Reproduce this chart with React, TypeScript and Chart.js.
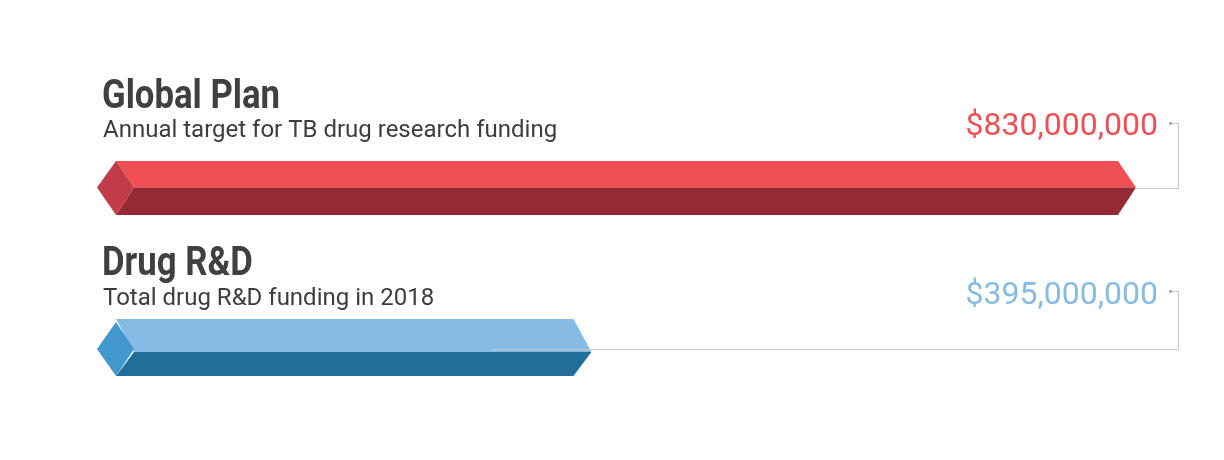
import React, { useEffect, useRef } from "react";
import { Chart, registerables } from "chart.js";

Chart.register(...registerables);

const categories = ["Global Plan", "Drug R&D"];
const subtitles = ["Annual target for TB drug research funding", "Total drug R&D funding in 2018"];
const values = [830000000, 395000000];
const axisMax = 830000000;

const topColors = ["#ef4f55", "#85bbe5"];
const bottomColors = ["#952a35", "#226e9b"];
const sideColors = ["#c23b48", "#4397cf"];
const labelColors = ["#ef4f55", "#85bbe5"];

// per-bar geometry (style only)
const upH = [26.5, 30];
const downH = [27.5, 27];
const midOff = [0, 3];
const titleDy = [-79.5, -74];
const subDy = [-50.5, -44.5];
const valDy = [-53, -45];
const leaderTopDy = [-64.5, -58.5];
const leaderBack = [0, 100];

const fmt = (v: number) => "$" + v.toLocaleString("en-US");

const prismPlugin = {
  id: "prism",
  afterDatasetsDraw(chart: any) {
    const ctx = chart.ctx;
    const meta = chart.getDatasetMeta(0);
    ctx.save();
    ctx.font = "700 40px Roboto";
    const gw = ctx.measureText(categories[0]).width;
    const titleScale = 178 / gw;
    meta.data.forEach((el: any, i: number) => {
      const X = el.x;
      const c = el.y;
      const b = el.base;
      const up = upH[i];
      const dn = downH[i];
      const m = c + midOff[i];
      const s = 18;
      const lx = b + 19;
      const rx = b + 37;
      // top face
      ctx.fillStyle = topColors[i];
      ctx.beginPath();
      ctx.moveTo(lx, c - up);
      ctx.lineTo(X - s, c - up);
      ctx.lineTo(X, m);
      ctx.lineTo(rx, m);
      ctx.closePath();
      ctx.fill();
      // bottom face
      ctx.fillStyle = bottomColors[i];
      ctx.beginPath();
      ctx.moveTo(rx, m);
      ctx.lineTo(X, m);
      ctx.lineTo(X - s, c + dn);
      ctx.lineTo(lx, c + dn);
      ctx.closePath();
      ctx.fill();
      // left face
      ctx.fillStyle = sideColors[i];
      ctx.beginPath();
      ctx.moveTo(lx, c - up + midOff[i]);
      ctx.lineTo(rx, c);
      ctx.lineTo(lx, c + dn);
      ctx.lineTo(b, c);
      ctx.closePath();
      ctx.fill();

      // leader line
      const vx = 1178.5;
      ctx.strokeStyle = "#c9c9c9";
      ctx.lineWidth = 1;
      ctx.beginPath();
      ctx.moveTo(1170, Math.round(c + leaderTopDy[i]) + 0.5);
      ctx.lineTo(vx, Math.round(c + leaderTopDy[i]) + 0.5);
      ctx.lineTo(vx, Math.round(c) + 0.5);
      ctx.lineTo(X - leaderBack[i], Math.round(c) + 0.5);
      ctx.stroke();
      ctx.fillStyle = "#888888";
      ctx.beginPath();
      ctx.arc(1170.5, Math.round(c + leaderTopDy[i]) + 0.5, 1.3, 0, Math.PI * 2);
      ctx.fill();

      // title
      ctx.fillStyle = "#404040";
      ctx.textBaseline = "alphabetic";
      ctx.textAlign = "left";
      ctx.save();
      ctx.translate(102, c + titleDy[i]);
      ctx.scale(titleScale, 1);
      ctx.font = "700 40px Roboto";
      ctx.fillText(categories[i], 0, 0);
      ctx.restore();
      // subtitle
      ctx.font = "400 24px Roboto";
      ctx.fillStyle = "#3d3d3d";
      ctx.fillText(subtitles[i], 103, c + subDy[i]);
      // value
      ctx.font = "400 32px Roboto";
      ctx.fillStyle = labelColors[i];
      ctx.textAlign = "right";
      ctx.fillText(fmt(values[i]), 1158, c + valDy[i]);
    });
    ctx.restore();
  },
};

export default function App() {
  const ref = useRef<HTMLCanvasElement>(null);
  useEffect(() => {
    if (!ref.current) return;
    const chart = new Chart(ref.current, {
      type: "bar",
      data: {
        labels: categories,
        datasets: [
          {
            data: values,
            backgroundColor: "rgba(0,0,0,0)",
            borderWidth: 0,
          },
        ],
      },
      options: {
        indexAxis: "y",
        responsive: false,
        animation: false,
        events: [],
        layout: { padding: { left: 97, right: 88, top: 106.75, bottom: 30.25 } },
        scales: {
          x: { display: false, min: 0, max: axisMax },
          y: { display: false },
        },
        plugins: { legend: { display: false }, tooltip: { enabled: false } },
      },
      plugins: [prismPlugin],
    } as any);
    return () => chart.destroy();
  }, []);
  return (
    <div style={{ position: "absolute", left: 0, top: 0, width: 1224, height: 460, background: "#fff" }}>
      <canvas ref={ref} width={1224} height={460} />
    </div>
  );
}
